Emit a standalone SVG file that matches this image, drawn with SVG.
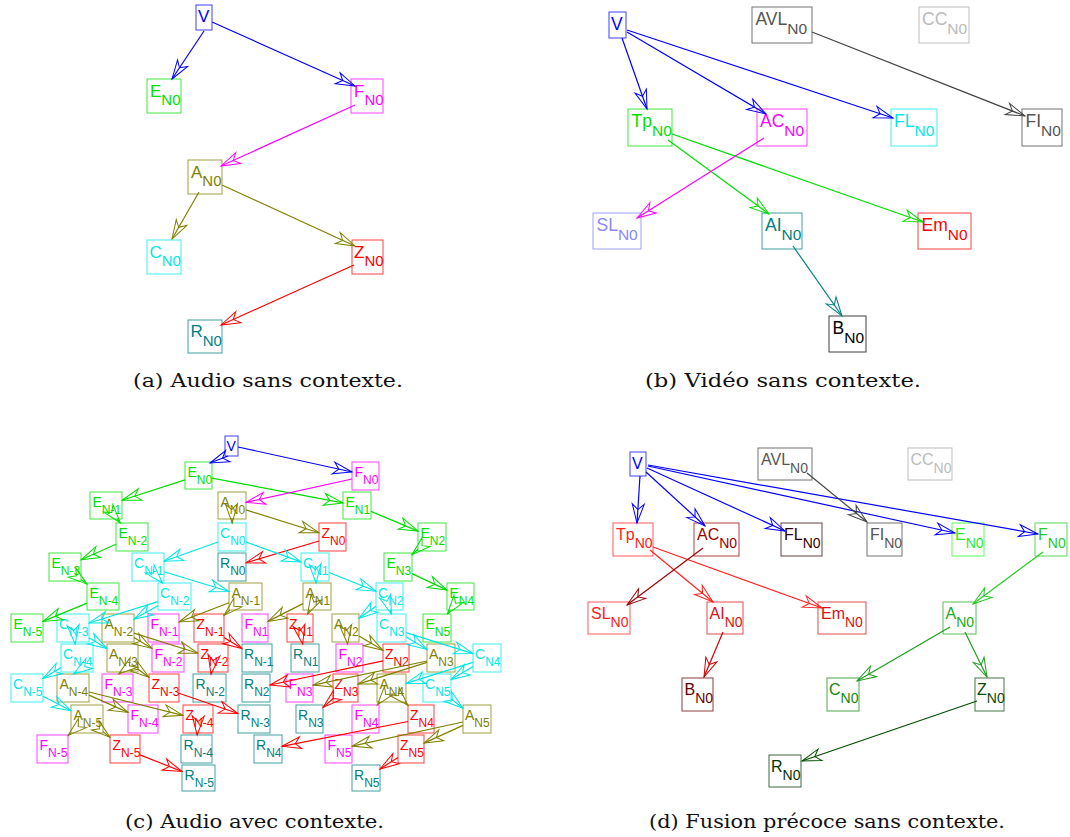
<svg xmlns="http://www.w3.org/2000/svg" width="1070" height="837" viewBox="0 0 1070 837">
<style>
rect{fill:none;stroke-width:1;stroke-opacity:.75}
text{font-family:"Liberation Sans",Arial,sans-serif}
.pa text{font-size:17px}.pa .s{font-size:15px}
.pb text{font-size:17.5px}.pb .s{font-size:15.5px}
.pd text{font-size:16px}.pd .s{font-size:14px}
.pc text{font-size:14px}.pc .s{font-size:12px}
.cap{font-family:"DejaVu Serif","Liberation Serif",serif;font-size:19px;fill:#111}
.e path{fill:none;stroke-width:1.2}
.ah{fill:none;stroke-width:1;stroke-linejoin:miter}
.kV rect{stroke:#0000ff}.kV text{fill:#0000ff}
.kE rect{stroke:#00e000}.kE text{fill:#00e000}
.kF rect{stroke:#ff00ff}.kF text{fill:#ff00ff}
.kA rect{stroke:#808000}.kA text{fill:#808000}
.kC rect{stroke:#00e8e8}.kC text{fill:#00e8e8}
.kZ rect{stroke:#ff0000}.kZ text{fill:#ff0000}
.kR rect{stroke:#008080}.kR text{fill:#008080}
.kG rect{stroke:#444}.kG text{fill:#555}
.kL rect{stroke:#aaa}.kL text{fill:#bbb}
.kS rect{stroke:#8080ff}.kS text{fill:#8888ff}
.kB rect{stroke:#000}.kB text{fill:#000}
.d1 rect{stroke:#ff2020}.d1 text{fill:#ff2020}
.d2 rect{stroke:#990000}.d2 text{fill:#990000}
.d3 rect{stroke:#330000}.d3 text{fill:#330000}
.d4 rect{stroke:#dd1111}.d4 text{fill:#dd1111}
.d5 rect{stroke:#660000}.d5 text{fill:#660000}
.g1 rect{stroke:#22ff22}.g1 text{fill:#22ee22}
.g2 rect{stroke:#22cc22}.g2 text{fill:#22cc22}
.g3 rect{stroke:#22aa22}.g3 text{fill:#22aa22}
.g4 rect{stroke:#118811}.g4 text{fill:#118811}
.g5 rect{stroke:#0a4a0a}.g5 text{fill:#0a4a0a}
.g6 rect{stroke:#003300}.g6 text{fill:#003300}
</style>
<defs>
<marker id="m-blue" viewBox="-21 -8 23 16" refX="0" refY="0" markerWidth="23" markerHeight="16" markerUnits="userSpaceOnUse" orient="auto"><path class="ah" d="M-19,-6 L0,0 L-19,6 L-13.5,0 Z" stroke="#0000ff"/></marker>
<marker id="m-lime" viewBox="-21 -8 23 16" refX="0" refY="0" markerWidth="23" markerHeight="16" markerUnits="userSpaceOnUse" orient="auto"><path class="ah" d="M-19,-6 L0,0 L-19,6 L-13.5,0 Z" stroke="#00dd00"/></marker>
<marker id="m-mag" viewBox="-21 -8 23 16" refX="0" refY="0" markerWidth="23" markerHeight="16" markerUnits="userSpaceOnUse" orient="auto"><path class="ah" d="M-19,-6 L0,0 L-19,6 L-13.5,0 Z" stroke="#ff00ff"/></marker>
<marker id="m-olive" viewBox="-21 -8 23 16" refX="0" refY="0" markerWidth="23" markerHeight="16" markerUnits="userSpaceOnUse" orient="auto"><path class="ah" d="M-19,-6 L0,0 L-19,6 L-13.5,0 Z" stroke="#808000"/></marker>
<marker id="m-cyan" viewBox="-21 -8 23 16" refX="0" refY="0" markerWidth="23" markerHeight="16" markerUnits="userSpaceOnUse" orient="auto"><path class="ah" d="M-19,-6 L0,0 L-19,6 L-13.5,0 Z" stroke="#00e5e5"/></marker>
<marker id="m-red" viewBox="-21 -8 23 16" refX="0" refY="0" markerWidth="23" markerHeight="16" markerUnits="userSpaceOnUse" orient="auto"><path class="ah" d="M-19,-6 L0,0 L-19,6 L-13.5,0 Z" stroke="#ff0000"/></marker>
<marker id="m-teal" viewBox="-21 -8 23 16" refX="0" refY="0" markerWidth="23" markerHeight="16" markerUnits="userSpaceOnUse" orient="auto"><path class="ah" d="M-19,-6 L0,0 L-19,6 L-13.5,0 Z" stroke="#008080"/></marker>
<marker id="m-gray" viewBox="-21 -8 23 16" refX="0" refY="0" markerWidth="23" markerHeight="16" markerUnits="userSpaceOnUse" orient="auto"><path class="ah" d="M-19,-6 L0,0 L-19,6 L-13.5,0 Z" stroke="#444444"/></marker>
<marker id="m-dr1" viewBox="-21 -8 23 16" refX="0" refY="0" markerWidth="23" markerHeight="16" markerUnits="userSpaceOnUse" orient="auto"><path class="ah" d="M-19,-6 L0,0 L-19,6 L-13.5,0 Z" stroke="#ff2020"/></marker>
<marker id="m-dr2" viewBox="-21 -8 23 16" refX="0" refY="0" markerWidth="23" markerHeight="16" markerUnits="userSpaceOnUse" orient="auto"><path class="ah" d="M-19,-6 L0,0 L-19,6 L-13.5,0 Z" stroke="#990000"/></marker>
<marker id="m-dr3" viewBox="-21 -8 23 16" refX="0" refY="0" markerWidth="23" markerHeight="16" markerUnits="userSpaceOnUse" orient="auto"><path class="ah" d="M-19,-6 L0,0 L-19,6 L-13.5,0 Z" stroke="#cc0000"/></marker>
<marker id="m-g1" viewBox="-21 -8 23 16" refX="0" refY="0" markerWidth="23" markerHeight="16" markerUnits="userSpaceOnUse" orient="auto"><path class="ah" d="M-19,-6 L0,0 L-19,6 L-13.5,0 Z" stroke="#22cc22"/></marker>
<marker id="m-g2" viewBox="-21 -8 23 16" refX="0" refY="0" markerWidth="23" markerHeight="16" markerUnits="userSpaceOnUse" orient="auto"><path class="ah" d="M-19,-6 L0,0 L-19,6 L-13.5,0 Z" stroke="#1a9e1a"/></marker>
<marker id="m-g3" viewBox="-21 -8 23 16" refX="0" refY="0" markerWidth="23" markerHeight="16" markerUnits="userSpaceOnUse" orient="auto"><path class="ah" d="M-19,-6 L0,0 L-19,6 L-13.5,0 Z" stroke="#004d00"/></marker>
</defs>
<rect x="0" y="0" width="1070" height="837" style="fill:#fff;stroke:none"/>

<!-- Panel (a) -->
<g class="pa">
<g id="a-V" class="kV"><rect x="196" y="5" width="16" height="25"/><text x="198" y="22">V</text></g>
<g id="a-E_N0" class="kE"><rect x="147" y="79" width="34" height="34"/><text x="150" y="96.5">E<tspan class="s" dy="8.5">N0</tspan></text></g>
<g id="a-F_N0" class="kF"><rect x="351" y="79" width="32" height="34"/><text x="354" y="96.5">F<tspan class="s" dy="8.5">N0</tspan></text></g>
<g id="a-A_N0" class="kA"><rect x="188" y="160" width="34" height="34"/><text x="191" y="177.5">A<tspan class="s" dy="8.5">N0</tspan></text></g>
<g id="a-C_N0" class="kC"><rect x="147" y="240" width="34" height="34"/><text x="149.5" y="257.5">C<tspan class="s" dy="8.5">N0</tspan></text></g>
<g id="a-Z_N0" class="kZ"><rect x="352" y="240" width="31" height="34"/><text x="354" y="257.5">Z<tspan class="s" dy="8.5">N0</tspan></text></g>
<g id="a-R_N0" class="kR"><rect x="188" y="320" width="34" height="33"/><text x="190.5" y="337">R<tspan class="s" dy="8.5">N0</tspan></text></g>
<g id="edges-a" class="e">
<path d="M204,31 L172,79" stroke="#0000ff" marker-end="url(#m-blue)"/>
<path d="M212,22 L355,86" stroke="#0000ff" marker-end="url(#m-blue)"/>
<path d="M355,105 L221,166" stroke="#ff00ff" marker-end="url(#m-mag)"/>
<path d="M199,192 L172,239" stroke="#808000" marker-end="url(#m-olive)"/>
<path d="M222,185 L355,246" stroke="#808000" marker-end="url(#m-olive)"/>
<path d="M354,265 L221,325" stroke="#ff0000" marker-end="url(#m-red)"/>
</g>
</g>

<!-- Panel (b) -->
<g class="pb">
<g id="b-V" class="kV"><rect x="609" y="12" width="17" height="26"/><text x="611" y="30">V</text></g>
<g id="b-AVL_N0" class="kG"><rect x="752" y="7" width="60" height="36"/><text x="755.5" y="25">AVL<tspan class="s" dy="9">N0</tspan></text></g>
<g id="b-CC_N0" class="kL"><rect x="919" y="7" width="50" height="36"/><text x="922" y="25">CC<tspan class="s" dy="9">N0</tspan></text></g>
<g id="b-Tp_N0" class="kE"><rect x="628" y="109" width="44" height="37"/><text x="631.5" y="126.5">Tp<tspan class="s" dy="9.5">N0</tspan></text></g>
<g id="b-AC_N0" class="kF"><rect x="757" y="109" width="50" height="37"/><text x="760" y="126.5">AC<tspan class="s" dy="9.5">N0</tspan></text></g>
<g id="b-FL_N0" class="kC"><rect x="891" y="109" width="46" height="37"/><text x="894" y="126.5">FL<tspan class="s" dy="9.5">N0</tspan></text></g>
<g id="b-FI_N0" class="kG"><rect x="1022" y="109" width="40" height="37"/><text x="1025.5" y="126.5">FI<tspan class="s" dy="9.5">N0</tspan></text></g>
<g id="b-SL_N0" class="kS"><rect x="593" y="213" width="48" height="36"/><text x="596.5" y="230.5">SL<tspan class="s" dy="9.5">N0</tspan></text></g>
<g id="b-AI_N0" class="kR"><rect x="762" y="213" width="40" height="36"/><text x="765" y="230.5">AI<tspan class="s" dy="9.5">N0</tspan></text></g>
<g id="b-Em_N0" class="kZ"><rect x="918" y="213" width="53" height="36"/><text x="921.5" y="230.5">Em<tspan class="s" dy="9.5">N0</tspan></text></g>
<g id="b-B_N0" class="kB"><rect x="829" y="316" width="37" height="36"/><text x="832.5" y="333.5">B<tspan class="s" dy="9.5">N0</tspan></text></g>
<g id="edges-b" class="e">
<path d="M622,38 L647,109" stroke="#0000ff" marker-end="url(#m-blue)"/>
<path d="M627,32 L766,114" stroke="#0000ff" marker-end="url(#m-blue)"/>
<path d="M627,30 L893,118" stroke="#0000ff" marker-end="url(#m-blue)"/>
<path d="M812,32 L1025,116" stroke="#444444" marker-end="url(#m-gray)"/>
<path d="M668,140 L769,214" stroke="#00dd00" marker-end="url(#m-lime)"/>
<path d="M672,134 L923,222" stroke="#00dd00" marker-end="url(#m-lime)"/>
<path d="M764,138 L637,218" stroke="#ff00ff" marker-end="url(#m-mag)"/>
<path d="M793,246 L842,316" stroke="#008080" marker-end="url(#m-teal)"/>
</g>
</g>

<!-- Panel (c) -->
<g class="pc">
<g id="c-V" class="kV"><rect x="225" y="436" width="13" height="20"/><text x="226.5" y="451">V</text></g>
<g id="c-E_N0" class="kE"><rect x="185" y="462" width="27" height="27"/><text x="187.5" y="476.5">E<tspan class="s" dy="7">N0</tspan></text></g>
<g id="c-F_N0" class="kF"><rect x="352" y="462" width="27" height="28"/><text x="354.5" y="476.5">F<tspan class="s" dy="7">N0</tspan></text></g>
<g id="c-E_N-1" class="kE"><rect x="90" y="492" width="32" height="27"/><text x="92.5" y="506.5">E<tspan class="s" dy="7">N-1</tspan></text></g>
<g id="c-A_N0" class="kA"><rect x="218" y="492" width="28" height="27"/><text x="220.5" y="506.5">A<tspan class="s" dy="7">N0</tspan></text></g>
<g id="c-E_N1" class="kE"><rect x="343" y="492" width="28" height="27"/><text x="345.5" y="506.5">E<tspan class="s" dy="7">N1</tspan></text></g>
<g id="c-E_N-2" class="kE"><rect x="116" y="523" width="32" height="28"/><text x="118.5" y="537.5">E<tspan class="s" dy="7">N-2</tspan></text></g>
<g id="c-C_N0" class="kC"><rect x="218" y="523" width="28" height="28"/><text x="220" y="537.5">C<tspan class="s" dy="7">N0</tspan></text></g>
<g id="c-Z_N0" class="kZ"><rect x="319" y="523" width="27" height="28"/><text x="321.5" y="537.5">Z<tspan class="s" dy="7">N0</tspan></text></g>
<g id="c-E_N2" class="kE"><rect x="418" y="523" width="28" height="28"/><text x="420.5" y="537.5">E<tspan class="s" dy="7">N2</tspan></text></g>
<g id="c-E_N-3" class="kE"><rect x="49" y="553" width="32" height="28"/><text x="51.5" y="567.5">E<tspan class="s" dy="7">N-3</tspan></text></g>
<g id="c-C_N-1" class="kC"><rect x="132" y="553" width="32" height="28"/><text x="134" y="567.5">C<tspan class="s" dy="7">N-1</tspan></text></g>
<g id="c-R_N0" class="kR"><rect x="218" y="553" width="28" height="28"/><text x="220" y="567.5">R<tspan class="s" dy="7">N0</tspan></text></g>
<g id="c-C_N1" class="kC"><rect x="301" y="553" width="28" height="28"/><text x="303" y="567.5">C<tspan class="s" dy="7">N1</tspan></text></g>
<g id="c-E_N3" class="kE"><rect x="384" y="553" width="28" height="28"/><text x="386.5" y="567.5">E<tspan class="s" dy="7">N3</tspan></text></g>
<g id="c-E_N-4" class="kE"><rect x="87" y="583" width="32" height="27"/><text x="89.5" y="597.5">E<tspan class="s" dy="7">N-4</tspan></text></g>
<g id="c-C_N-2" class="kC"><rect x="158" y="583" width="33" height="27"/><text x="160" y="597.5">C<tspan class="s" dy="7">N-2</tspan></text></g>
<g id="c-A_N-1" class="kA"><rect x="229" y="583" width="33" height="27"/><text x="231.5" y="597.5">A<tspan class="s" dy="7">N-1</tspan></text></g>
<g id="c-A_N1" class="kA"><rect x="303" y="583" width="28" height="27"/><text x="305.5" y="597.5">A<tspan class="s" dy="7">N1</tspan></text></g>
<g id="c-C_N2" class="kC"><rect x="376" y="583" width="27" height="27"/><text x="378" y="597.5">C<tspan class="s" dy="7">N2</tspan></text></g>
<g id="c-E_N4" class="kE"><rect x="447" y="583" width="27" height="27"/><text x="449.5" y="597.5">E<tspan class="s" dy="7">N4</tspan></text></g>
<g id="c-E_N-5" class="kE"><rect x="11" y="614" width="32" height="28"/><text x="13.5" y="628.5">E<tspan class="s" dy="7">N-5</tspan></text></g>
<g id="c-C_N-3" class="kC"><rect x="57" y="614" width="32" height="28"/><text x="59" y="628.5">C<tspan class="s" dy="7">N-3</tspan></text></g>
<g id="c-A_N-2" class="kA"><rect x="102" y="614" width="32" height="28"/><text x="104.5" y="628.5">A<tspan class="s" dy="7">N-2</tspan></text></g>
<g id="c-F_N-1" class="kF"><rect x="148" y="614" width="31" height="28"/><text x="150.5" y="628.5">F<tspan class="s" dy="7">N-1</tspan></text></g>
<g id="c-Z_N-1" class="kZ"><rect x="194" y="614" width="30" height="28"/><text x="196.5" y="628.5">Z<tspan class="s" dy="7">N-1</tspan></text></g>
<g id="c-F_N1" class="kF"><rect x="242" y="614" width="26" height="28"/><text x="244.5" y="628.5">F<tspan class="s" dy="7">N1</tspan></text></g>
<g id="c-Z_N1" class="kZ"><rect x="287" y="614" width="26" height="28"/><text x="289" y="628.5">Z<tspan class="s" dy="7">N1</tspan></text></g>
<g id="c-A_N2" class="kA"><rect x="332" y="614" width="27" height="28"/><text x="334" y="628.5">A<tspan class="s" dy="7">N2</tspan></text></g>
<g id="c-C_N3" class="kC"><rect x="377" y="614" width="29" height="28"/><text x="379" y="628.5">C<tspan class="s" dy="7">N3</tspan></text></g>
<g id="c-E_N5" class="kE"><rect x="423" y="614" width="28" height="28"/><text x="425.5" y="628.5">E<tspan class="s" dy="7">N5</tspan></text></g>
<g id="c-C_N-4" class="kC"><rect x="61" y="644" width="32" height="28"/><text x="63" y="658.5">C<tspan class="s" dy="7">N-4</tspan></text></g>
<g id="c-A_N-3" class="kA"><rect x="107" y="644" width="31" height="28"/><text x="109" y="658.5">A<tspan class="s" dy="7">N-3</tspan></text></g>
<g id="c-F_N-2" class="kF"><rect x="152" y="644" width="32" height="28"/><text x="154.5" y="658.5">F<tspan class="s" dy="7">N-2</tspan></text></g>
<g id="c-Z_N-2" class="kZ"><rect x="198" y="644" width="30" height="28"/><text x="200.5" y="658.5">Z<tspan class="s" dy="7">N-2</tspan></text></g>
<g id="c-R_N-1" class="kR"><rect x="242" y="644" width="30" height="28"/><text x="244" y="658.5">R<tspan class="s" dy="7">N-1</tspan></text></g>
<g id="c-R_N1" class="kR"><rect x="291" y="644" width="28" height="28"/><text x="293" y="658.5">R<tspan class="s" dy="7">N1</tspan></text></g>
<g id="c-F_N2" class="kF"><rect x="336" y="644" width="27" height="28"/><text x="338.5" y="658.5">F<tspan class="s" dy="7">N2</tspan></text></g>
<g id="c-Z_N2" class="kZ"><rect x="383" y="644" width="26" height="28"/><text x="385" y="658.5">Z<tspan class="s" dy="7">N2</tspan></text></g>
<g id="c-A_N3" class="kA"><rect x="427" y="644" width="28" height="28"/><text x="429" y="658.5">A<tspan class="s" dy="7">N3</tspan></text></g>
<g id="c-C_N4" class="kC"><rect x="473" y="644" width="28" height="28"/><text x="475" y="658.5">C<tspan class="s" dy="7">N4</tspan></text></g>
<g id="c-C_N-5" class="kC"><rect x="11" y="674" width="32" height="28"/><text x="13" y="688.5">C<tspan class="s" dy="7">N-5</tspan></text></g>
<g id="c-A_N-4" class="kA"><rect x="57" y="674" width="32" height="28"/><text x="59.5" y="688.5">A<tspan class="s" dy="7">N-4</tspan></text></g>
<g id="c-F_N-3" class="kF"><rect x="102" y="674" width="31" height="28"/><text x="104.5" y="688.5">F<tspan class="s" dy="7">N-3</tspan></text></g>
<g id="c-Z_N-3" class="kZ"><rect x="149" y="674" width="30" height="28"/><text x="151.5" y="688.5">Z<tspan class="s" dy="7">N-3</tspan></text></g>
<g id="c-R_N-2" class="kR"><rect x="193" y="674" width="33" height="28"/><text x="195.5" y="688.5">R<tspan class="s" dy="7">N-2</tspan></text></g>
<g id="c-R_N2" class="kR"><rect x="242" y="674" width="28" height="28"/><text x="244" y="688.5">R<tspan class="s" dy="7">N2</tspan></text></g>
<g id="c-F_N3" class="kF"><rect x="286" y="674" width="27" height="28"/><text x="288.5" y="688.5">F<tspan class="s" dy="7">N3</tspan></text></g>
<g id="c-Z_N3" class="kZ"><rect x="333" y="674" width="25" height="28"/><text x="334.5" y="688.5">Z<tspan class="s" dy="7">N3</tspan></text></g>
<g id="c-A_N4" class="kA"><rect x="377" y="674" width="29" height="28"/><text x="379.5" y="688.5">A<tspan class="s" dy="7">N4</tspan></text></g>
<g id="c-C_N5" class="kC"><rect x="423" y="674" width="28" height="28"/><text x="425" y="688.5">C<tspan class="s" dy="7">N5</tspan></text></g>
<g id="c-A_N-5" class="kA"><rect x="71" y="705" width="32" height="28"/><text x="73.5" y="719.5">A<tspan class="s" dy="7">N-5</tspan></text></g>
<g id="c-F_N-4" class="kF"><rect x="128" y="705" width="30" height="28"/><text x="130.5" y="719.5">F<tspan class="s" dy="7">N-4</tspan></text></g>
<g id="c-Z_N-4" class="kZ"><rect x="183" y="705" width="30" height="28"/><text x="185.5" y="719.5">Z<tspan class="s" dy="7">N-4</tspan></text></g>
<g id="c-R_N-3" class="kR"><rect x="238" y="705" width="32" height="28"/><text x="240.5" y="719.5">R<tspan class="s" dy="7">N-3</tspan></text></g>
<g id="c-R_N3" class="kR"><rect x="296" y="705" width="27" height="28"/><text x="298" y="719.5">R<tspan class="s" dy="7">N3</tspan></text></g>
<g id="c-F_N4" class="kF"><rect x="352" y="705" width="27" height="28"/><text x="354.5" y="719.5">F<tspan class="s" dy="7">N4</tspan></text></g>
<g id="c-Z_N4" class="kZ"><rect x="408" y="705" width="26" height="28"/><text x="410" y="719.5">Z<tspan class="s" dy="7">N4</tspan></text></g>
<g id="c-A_N5" class="kA"><rect x="463" y="705" width="28" height="28"/><text x="465" y="719.5">A<tspan class="s" dy="7">N5</tspan></text></g>
<g id="c-F_N-5" class="kF"><rect x="37" y="735" width="31" height="28"/><text x="39.5" y="749.5">F<tspan class="s" dy="7">N-5</tspan></text></g>
<g id="c-Z_N-5" class="kZ"><rect x="110" y="735" width="30" height="28"/><text x="112.5" y="749.5">Z<tspan class="s" dy="7">N-5</tspan></text></g>
<g id="c-R_N-4" class="kR"><rect x="181" y="735" width="31" height="28"/><text x="183.5" y="749.5">R<tspan class="s" dy="7">N-4</tspan></text></g>
<g id="c-R_N4" class="kR"><rect x="254" y="735" width="28" height="28"/><text x="256" y="749.5">R<tspan class="s" dy="7">N4</tspan></text></g>
<g id="c-F_N5" class="kF"><rect x="325" y="735" width="27" height="28"/><text x="327.5" y="749.5">F<tspan class="s" dy="7">N5</tspan></text></g>
<g id="c-Z_N5" class="kZ"><rect x="398" y="735" width="26" height="28"/><text x="400" y="749.5">Z<tspan class="s" dy="7">N5</tspan></text></g>
<g id="c-R_N5" class="kR"><rect x="352" y="765" width="28" height="26"/><text x="354" y="779.5">R<tspan class="s" dy="7">N5</tspan></text></g>
<g id="c-R_N-5" class="kR"><rect x="182" y="765" width="33" height="26"/><text x="184.5" y="779.5">R<tspan class="s" dy="7">N-5</tspan></text></g>
<g id="edges-c" class="e">
<path d="M228,456 L210,463" stroke="#0000ff" marker-end="url(#m-blue)"/>
<path d="M238,447 L352,472" stroke="#0000ff" marker-end="url(#m-blue)"/>
<path d="M185,479.9 L122,500.3" stroke="#00dd00" marker-end="url(#m-lime)"/>
<path d="M212,478.1 L343,502.9" stroke="#00dd00" marker-end="url(#m-lime)"/>
<path d="M352,479 L246,502.4" stroke="#ff00ff" marker-end="url(#m-mag)"/>
<path d="M232,518 L232.2,523" stroke="#808000" marker-end="url(#m-olive)"/>
<path d="M246,509.9 L319,532.8" stroke="#808000" marker-end="url(#m-olive)"/>
<path d="M319,541 L246,562.8" stroke="#ff0000" marker-end="url(#m-red)"/>
<path d="M218,542 L164,561.3" stroke="#00e5e5" marker-end="url(#m-cyan)"/>
<path d="M246,542 L301,561.9" stroke="#00e5e5" marker-end="url(#m-cyan)"/>
<path d="M117.1,519 L120.4,523" stroke="#00dd00" marker-end="url(#m-lime)"/>
<path d="M116,544.2 L81,559.8" stroke="#00dd00" marker-end="url(#m-lime)"/>
<path d="M81,579.4 L87,584.1" stroke="#00dd00" marker-end="url(#m-lime)"/>
<path d="M87,603.1 L43,621.4" stroke="#00dd00" marker-end="url(#m-lime)"/>
<path d="M371,511.4 L418,531.1" stroke="#00dd00" marker-end="url(#m-lime)"/>
<path d="M418,549.3 L412,554.7" stroke="#00dd00" marker-end="url(#m-lime)"/>
<path d="M412,573.6 L447,590.1" stroke="#00dd00" marker-end="url(#m-lime)"/>
<path d="M450.4,610 L447.4,614" stroke="#00dd00" marker-end="url(#m-lime)"/>
<path d="M160.6,581 L162.4,583" stroke="#00e5e5" marker-end="url(#m-cyan)"/>
<path d="M164,571.8 L229,591.5" stroke="#00e5e5" marker-end="url(#m-cyan)"/>
<path d="M158,601.6 L89,623" stroke="#00e5e5" marker-end="url(#m-cyan)"/>
<path d="M158,605.7 L134,619.1" stroke="#00e5e5" marker-end="url(#m-cyan)"/>
<path d="M74.9,642 L75.1,644" stroke="#00e5e5" marker-end="url(#m-cyan)"/>
<path d="M89,637.7 L107,648.6" stroke="#00e5e5" marker-end="url(#m-cyan)"/>
<path d="M61,667.6 L43,678.4" stroke="#00e5e5" marker-end="url(#m-cyan)"/>
<path d="M76.5,672 L73.5,674" stroke="#00e5e5" marker-end="url(#m-cyan)"/>
<path d="M43,696.3 L71,710.7" stroke="#00e5e5" marker-end="url(#m-cyan)"/>
<path d="M329,572.5 L376,591.2" stroke="#00e5e5" marker-end="url(#m-cyan)"/>
<path d="M316,581 L316.1,583" stroke="#00e5e5" marker-end="url(#m-cyan)"/>
<path d="M390,610 L391.4,614" stroke="#00e5e5" marker-end="url(#m-cyan)"/>
<path d="M376,606.2 L359,618.3" stroke="#00e5e5" marker-end="url(#m-cyan)"/>
<path d="M406,632.6 L473,653.6" stroke="#00e5e5" marker-end="url(#m-cyan)"/>
<path d="M406,636.8 L427,649.5" stroke="#00e5e5" marker-end="url(#m-cyan)"/>
<path d="M473,666.4 L451,679.6" stroke="#00e5e5" marker-end="url(#m-cyan)"/>
<path d="M473,662.4 L406,683.4" stroke="#00e5e5" marker-end="url(#m-cyan)"/>
<path d="M451,698.9 L463,708.2" stroke="#00e5e5" marker-end="url(#m-cyan)"/>
<path d="M229,602.8 L179,622" stroke="#808000" marker-end="url(#m-olive)"/>
<path d="M229.8,610 L224,615.4" stroke="#808000" marker-end="url(#m-olive)"/>
<path d="M134,637.6 L152,648.4" stroke="#808000" marker-end="url(#m-olive)"/>
<path d="M134,633.1 L198,653.3" stroke="#808000" marker-end="url(#m-olive)"/>
<path d="M121.3,672 L118.7,674" stroke="#808000" marker-end="url(#m-olive)"/>
<path d="M138,669.2 L149,677.2" stroke="#808000" marker-end="url(#m-olive)"/>
<path d="M89,695.1 L128,712.4" stroke="#808000" marker-end="url(#m-olive)"/>
<path d="M89,692 L183,715.3" stroke="#808000" marker-end="url(#m-olive)"/>
<path d="M71,732.9 L68,735.5" stroke="#808000" marker-end="url(#m-olive)"/>
<path d="M103,731.6 L110,737.2" stroke="#808000" marker-end="url(#m-olive)"/>
<path d="M303,603.6 L268,621.4" stroke="#808000" marker-end="url(#m-olive)"/>
<path d="M309.7,610 L307.6,614" stroke="#808000" marker-end="url(#m-olive)"/>
<path d="M347.4,642 L347.6,644" stroke="#808000" marker-end="url(#m-olive)"/>
<path d="M359,636 L383,650.3" stroke="#808000" marker-end="url(#m-olive)"/>
<path d="M427,661 L313,685.1" stroke="#808000" marker-end="url(#m-olive)"/>
<path d="M427,662.4 L358,684.1" stroke="#808000" marker-end="url(#m-olive)"/>
<path d="M379.7,702 L377.3,705" stroke="#808000" marker-end="url(#m-olive)"/>
<path d="M404.8,702 L408,705.3" stroke="#808000" marker-end="url(#m-olive)"/>
<path d="M463,722 L352,746.1" stroke="#808000" marker-end="url(#m-olive)"/>
<path d="M463,725.4 L424,743.1" stroke="#808000" marker-end="url(#m-olive)"/>
<path d="M224,637.4 L242,648.6" stroke="#ff0000" marker-end="url(#m-red)"/>
<path d="M211.4,672 L211.1,674" stroke="#ff0000" marker-end="url(#m-red)"/>
<path d="M179,693.2 L238,713.5" stroke="#ff0000" marker-end="url(#m-red)"/>
<path d="M197.3,733 L197.2,735" stroke="#ff0000" marker-end="url(#m-red)"/>
<path d="M140,754.9 L182,771.5" stroke="#ff0000" marker-end="url(#m-red)"/>
<path d="M302.3,642 L302.7,644" stroke="#ff0000" marker-end="url(#m-red)"/>
<path d="M383,660.8 L270,685" stroke="#ff0000" marker-end="url(#m-red)"/>
<path d="M333,698.8 L323,707.4" stroke="#ff0000" marker-end="url(#m-red)"/>
<path d="M408,721.5 L282,746.3" stroke="#ff0000" marker-end="url(#m-red)"/>
<path d="M398,757.4 L380,769" stroke="#ff0000" marker-end="url(#m-red)"/>
</g>
</g>

<!-- Panel (d) -->
<g class="pd">
<g id="d-V" class="kV"><rect x="630" y="452" width="16" height="24"/><text x="632" y="469">V</text></g>
<g id="d-AVL_N0" class="kG"><rect x="758" y="448" width="54" height="32"/><text x="761" y="464.5">AVL<tspan class="s" dy="8.5">N0</tspan></text></g>
<g id="d-CC_N0" class="kL"><rect x="908" y="448" width="44" height="32"/><text x="910.5" y="464.5">CC<tspan class="s" dy="8.5">N0</tspan></text></g>
<g id="d-Tp_N0" class="d1"><rect x="613" y="523" width="40" height="33"/><text x="616" y="539.5">Tp<tspan class="s" dy="8.5">N0</tspan></text></g>
<g id="d-AC_N0" class="d2"><rect x="694" y="523" width="45" height="33"/><text x="697" y="539.5">AC<tspan class="s" dy="8.5">N0</tspan></text></g>
<g id="d-FL_N0" class="d3"><rect x="781" y="523" width="41" height="33"/><text x="784" y="539.5">FL<tspan class="s" dy="8.5">N0</tspan></text></g>
<g id="d-FI_N0" class="kG"><rect x="867" y="523" width="35" height="33"/><text x="870" y="539.5">FI<tspan class="s" dy="8.5">N0</tspan></text></g>
<g id="d-E_N0" class="g1"><rect x="952" y="523" width="32" height="33"/><text x="955" y="539.5">E<tspan class="s" dy="8.5">N0</tspan></text></g>
<g id="d-F_N0" class="g2"><rect x="1035" y="523" width="32" height="33"/><text x="1038" y="539.5">F<tspan class="s" dy="8.5">N0</tspan></text></g>
<g id="d-SL_N0" class="d1"><rect x="588" y="602" width="42" height="32"/><text x="591" y="618.5">SL<tspan class="s" dy="8.5">N0</tspan></text></g>
<g id="d-AI_N0" class="d4"><rect x="707" y="602" width="36" height="32"/><text x="709.5" y="618.5">AI<tspan class="s" dy="8.5">N0</tspan></text></g>
<g id="d-Em_N0" class="d4"><rect x="818" y="602" width="48" height="32"/><text x="821" y="618.5">Em<tspan class="s" dy="8.5">N0</tspan></text></g>
<g id="d-A_N0" class="g3"><rect x="943" y="602" width="33" height="32"/><text x="945.5" y="618.5">A<tspan class="s" dy="8.5">N0</tspan></text></g>
<g id="d-B_N0" class="d5"><rect x="682" y="678" width="31" height="33"/><text x="684.5" y="694.5">B<tspan class="s" dy="8.5">N0</tspan></text></g>
<g id="d-C_N0" class="g4"><rect x="827" y="678" width="32" height="33"/><text x="829" y="694.5">C<tspan class="s" dy="8.5">N0</tspan></text></g>
<g id="d-Z_N0" class="g5"><rect x="975" y="678" width="29" height="33"/><text x="977" y="694.5">Z<tspan class="s" dy="8.5">N0</tspan></text></g>
<g id="d-R_N0" class="g6"><rect x="769" y="755" width="32" height="32"/><text x="771" y="771.5">R<tspan class="s" dy="8.5">N0</tspan></text></g>
<g id="edges-d" class="e">
<path d="M640,476 L637,523" stroke="#0000ff" marker-end="url(#m-blue)"/>
<path d="M646,472 L705,526" stroke="#0000ff" marker-end="url(#m-blue)"/>
<path d="M647,468 L785,531" stroke="#0000ff" marker-end="url(#m-blue)"/>
<path d="M648,466 L955,533" stroke="#0000ff" marker-end="url(#m-blue)"/>
<path d="M648,465 L1038,534" stroke="#0000ff" marker-end="url(#m-blue)"/>
<path d="M807,473 L867,522" stroke="#444444" marker-end="url(#m-gray)"/>
<path d="M650,550 L713,602" stroke="#ff2020" marker-end="url(#m-dr1)"/>
<path d="M653,547 L822,608" stroke="#ff2020" marker-end="url(#m-dr1)"/>
<path d="M703,548 L627,605" stroke="#990000" marker-end="url(#m-dr2)"/>
<path d="M723,632 L704,677" stroke="#cc0000" marker-end="url(#m-dr3)"/>
<path d="M1043,552 L973,604" stroke="#22cc22" marker-end="url(#m-g1)"/>
<path d="M950,627 L857,681" stroke="#1a9e1a" marker-end="url(#m-g2)"/>
<path d="M965,632 L987,677" stroke="#1a9e1a" marker-end="url(#m-g2)"/>
<path d="M977,701 L802,761" stroke="#004d00" marker-end="url(#m-g3)"/>
</g>
</g>

<!-- Captions -->
<text class="cap" x="133" y="387" textLength="270" lengthAdjust="spacingAndGlyphs">(a) Audio sans contexte.</text>
<text class="cap" x="645" y="387" textLength="276" lengthAdjust="spacingAndGlyphs">(b) Vidéo sans contexte.</text>
<text class="cap" x="125" y="828" textLength="259" lengthAdjust="spacingAndGlyphs">(c) Audio avec contexte.</text>
<text class="cap" x="649" y="828" textLength="356" lengthAdjust="spacingAndGlyphs">(d) Fusion précoce sans contexte.</text>
</svg>
